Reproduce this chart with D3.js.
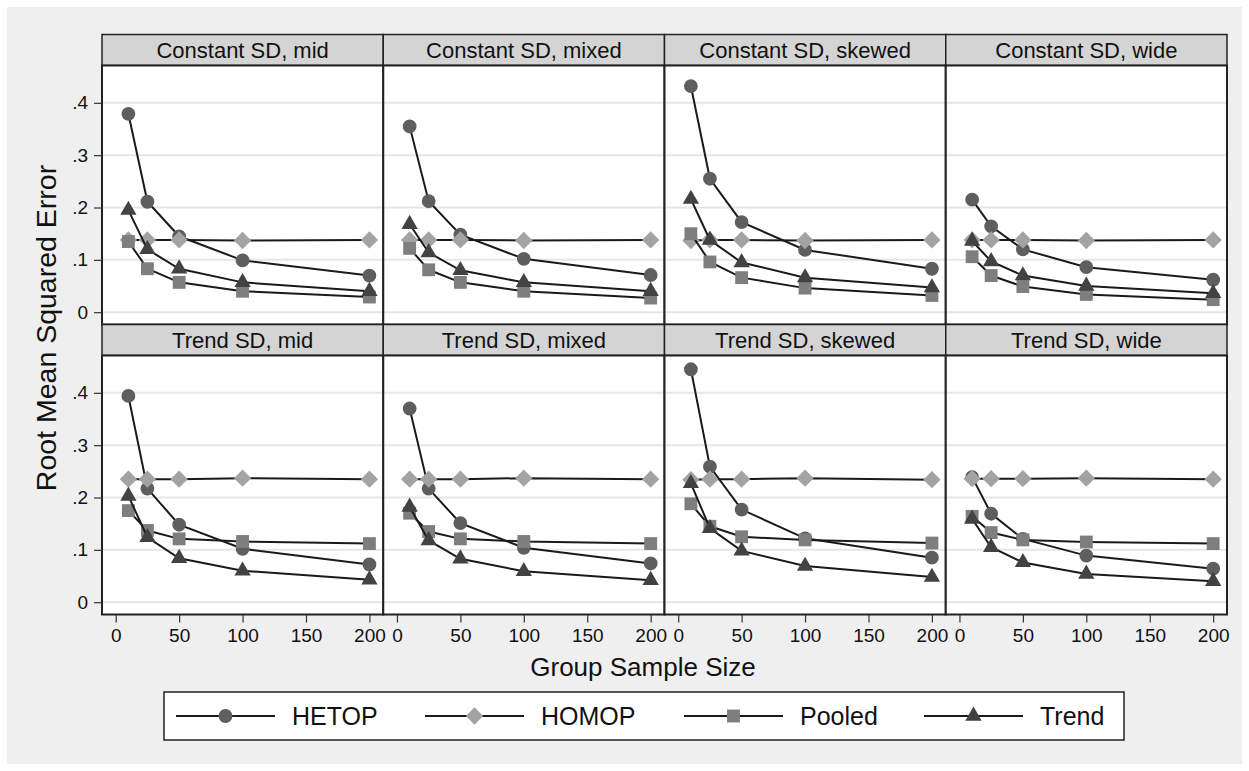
<!DOCTYPE html>
<html>
<head>
<meta charset="utf-8">
<script src="https://cdn.jsdelivr.net/npm/d3@7"></script>
<style>
  body { margin: 0; background: #ffffff; }
  svg text { font-family: "Liberation Sans", Arial, Helvetica, sans-serif; fill: #111; }
</style>
</head>
<body>
<svg id="chart" width="1249" height="771"></svg>
<script>
// data
var sampleSizes = [10, 25, 50, 100, 200];
var panelTitles = ["Constant SD, mid", "Constant SD, mixed", "Constant SD, skewed", "Constant SD, wide",
                   "Trend SD, mid", "Trend SD, mixed", "Trend SD, skewed", "Trend SD, wide"];
var seriesNames = ["HETOP", "HOMOP", "Pooled", "Trend"];
var yTicks = [0, 0.1, 0.2, 0.3, 0.4];
var xTicks = [0, 50, 100, 150, 200];

var hetop = [
  [0.379, 0.211, 0.145, 0.099, 0.070],
  [0.355, 0.212, 0.148, 0.102, 0.071],
  [0.432, 0.255, 0.172, 0.119, 0.083],
  [0.215, 0.164, 0.120, 0.086, 0.062],
  [0.394, 0.217, 0.148, 0.102, 0.072],
  [0.370, 0.217, 0.151, 0.104, 0.074],
  [0.445, 0.259, 0.177, 0.122, 0.085],
  [0.239, 0.169, 0.121, 0.089, 0.064]
];
var homop = [
  [0.138, 0.138, 0.138, 0.137, 0.138],
  [0.138, 0.138, 0.138, 0.137, 0.138],
  [0.137, 0.138, 0.138, 0.137, 0.138],
  [0.138, 0.138, 0.138, 0.137, 0.138],
  [0.235, 0.235, 0.235, 0.237, 0.235],
  [0.235, 0.235, 0.235, 0.237, 0.235],
  [0.234, 0.235, 0.235, 0.237, 0.234],
  [0.236, 0.236, 0.236, 0.237, 0.235]
];
var pooled = [
  [0.135, 0.083, 0.057, 0.040, 0.029],
  [0.122, 0.081, 0.057, 0.040, 0.027],
  [0.150, 0.096, 0.066, 0.046, 0.032],
  [0.106, 0.070, 0.049, 0.034, 0.024],
  [0.175, 0.137, 0.121, 0.116, 0.112],
  [0.170, 0.135, 0.121, 0.116, 0.112],
  [0.188, 0.145, 0.125, 0.119, 0.113],
  [0.164, 0.133, 0.119, 0.115, 0.112]
];
var trend = [
  [0.195, 0.120, 0.083, 0.057, 0.040],
  [0.168, 0.114, 0.080, 0.057, 0.040],
  [0.216, 0.138, 0.095, 0.066, 0.047],
  [0.136, 0.097, 0.070, 0.050, 0.036],
  [0.203, 0.124, 0.084, 0.060, 0.043],
  [0.182, 0.118, 0.083, 0.059, 0.042],
  [0.227, 0.141, 0.098, 0.069, 0.048],
  [0.159, 0.105, 0.076, 0.054, 0.040]
];

var seriesData = [hetop, homop, pooled, trend];
var markerFill = ["#5e5e5e", "#a3a3a3", "#7e7e7e", "#424242"];

var svg = d3.select("#chart");

// graph region
svg.append("rect").attr("x", 7).attr("y", 7).attr("width", 1235).attr("height", 757)
   .attr("fill", "#efefef");

var gridLeft = 102, gridTop = 34.5, panelW = 281.25, stripH = 31, plotH = 259;

var x = d3.scaleLinear().domain([-10.8, 210.9]).range([0, panelW]);
var y = d3.scaleLinear().domain([-0.0235, 0.4713]).range([plotH, 0]);

var markers = [
  d3.symbol().type(d3.symbolCircle).size(150),
  d3.symbol().type(d3.symbolSquare).size(150),
  d3.symbol().type(d3.symbolSquare).size(165),
  d3.symbol().type(d3.symbolTriangle).size(115)
];

var line = d3.line().x(function(d) { return x(d[0]); }).y(function(d) { return y(d[1]); });

panelTitles.forEach(function(title, p) {
  var col = p % 4, row = Math.floor(p / 4);
  var g = svg.append("g")
    .attr("transform", "translate(" + (gridLeft + col * panelW) + "," + (gridTop + row * (stripH + plotH)) + ")");

  // strip
  g.append("rect").attr("width", panelW).attr("height", stripH)
    .attr("fill", "#d4d4d4").attr("stroke", "#222").attr("stroke-width", 1.5);
  g.append("text").attr("x", panelW / 2).attr("y", stripH / 2 + 8)
    .attr("text-anchor", "middle").attr("font-size", 22).text(title);

  var plot = g.append("g").attr("transform", "translate(0," + stripH + ")");
  plot.append("rect").attr("width", panelW).attr("height", plotH).attr("fill", "#ffffff");

  // gridlines
  plot.selectAll(".grid").data(yTicks).enter().append("line")
    .attr("x1", 0).attr("x2", panelW)
    .attr("y1", function(d) { return y(d); }).attr("y2", function(d) { return y(d); })
    .attr("stroke", "#e6e6e6").attr("stroke-width", 2);

  seriesData.forEach(function(s, k) {
    var pts = sampleSizes.map(function(n, i) { return [n, s[p][i]]; });
    plot.append("path").attr("d", line(pts)).attr("fill", "none")
      .attr("stroke", "#1a1a1a").attr("stroke-width", 2);
    plot.selectAll(".m" + k).data(pts).enter().append("path")
      .attr("d", markers[k])
      .attr("transform", function(d) {
        return "translate(" + x(d[0]) + "," + y(d[1]) + ")" + (k === 1 ? " rotate(45)" : "");
      })
      .attr("fill", markerFill[k]);
  });

  plot.append("rect").attr("width", panelW).attr("height", plotH)
    .attr("fill", "none").attr("stroke", "#222").attr("stroke-width", 2);

  if (col === 0) {
    var ya = plot.append("g").call(d3.axisLeft(y).tickValues(yTicks).tickSize(8).tickPadding(6)
      .tickFormat(function(d) { return d === 0 ? "0" : d3.format(".1f")(d).replace(/^0/, ""); }));
    ya.select(".domain").remove();
    ya.selectAll("line").attr("stroke", "#333").attr("stroke-width", 1.2);
    ya.selectAll("text").attr("font-size", 19).attr("font-family", null).attr("fill", "#111");
  }
  if (row === 1) {
    var xa = plot.append("g").attr("transform", "translate(0," + plotH + ")")
      .call(d3.axisBottom(x).tickValues(xTicks).tickSize(8).tickPadding(6));
    xa.select(".domain").remove();
    xa.selectAll("line").attr("stroke", "#333").attr("stroke-width", 1.2);
    xa.selectAll("text").attr("font-size", 19).attr("font-family", null).attr("fill", "#111");
  }
});

// axis titles
svg.append("text").attr("x", 643).attr("y", 676).attr("text-anchor", "middle")
  .attr("font-size", 26).text("Group Sample Size");
svg.append("text").attr("transform", "translate(56,328) rotate(-90)").attr("text-anchor", "middle")
  .attr("font-size", 28.5).text("Root Mean Squared Error");

// legend
var legend = svg.append("g");
legend.append("rect").attr("x", 164).attr("y", 692).attr("width", 960).attr("height", 48)
  .attr("fill", "#ffffff").attr("stroke", "#222").attr("stroke-width", 1.5);
var legendX = [176, 425, 684, 924];
seriesNames.forEach(function(name, k) {
  var lx = legendX[k], ly = 716;
  legend.append("line").attr("x1", lx).attr("x2", lx + 99).attr("y1", ly).attr("y2", ly)
    .attr("stroke", "#1a1a1a").attr("stroke-width", 2);
  legend.append("path").attr("d", markers[k])
    .attr("transform", "translate(" + (lx + 49.5) + "," + ly + ")" + (k === 1 ? " rotate(45)" : ""))
    .attr("fill", markerFill[k]);
  legend.append("text").attr("x", lx + 116).attr("y", ly + 9).attr("font-size", 25).text(name);
});
</script>
</body>
</html>
